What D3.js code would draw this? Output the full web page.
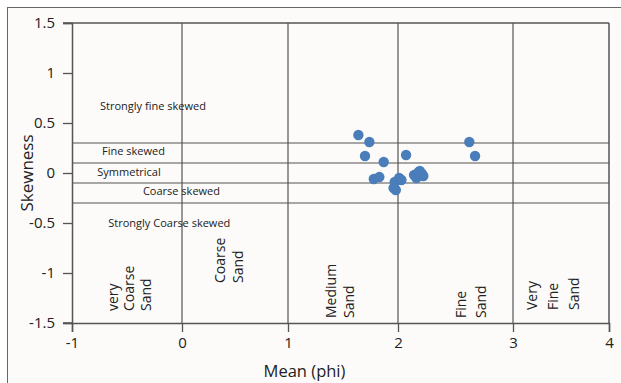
<!DOCTYPE html>
<html>
<head>
<meta charset="utf-8">
<script src="https://cdn.jsdelivr.net/npm/d3@7"></script>
<style>
  html, body { margin: 0; padding: 0; background: #ffffff; }
  svg { display: block; }
  text { font-family: "Open Sans", "Noto Sans", sans-serif; fill: #222; }
</style>
</head>
<body>
<svg id="chart" width="621" height="383"></svg>
<script>
// Grain-size samples: mean (phi) vs. skewness
const meanPhi = [1.64, 1.74, 1.70, 1.87, 2.07, 2.62, 2.67,
                 1.78, 1.83, 1.96, 1.98, 1.97, 2.01, 2.03,
                 2.14, 2.16, 2.18, 2.21, 2.22, 2.19];
const skewness = [0.38, 0.31, 0.17, 0.11, 0.18, 0.31, 0.17,
                  -0.06, -0.04, -0.15, -0.17, -0.09, -0.05, -0.07,
                  -0.02, -0.05, 0.01, -0.01, -0.03, 0.02];

const xTicks = [-1, 0, 1, 2, 3, 4];
const yTicks = [-1.5, -1, -0.5, 0, 0.5, 1, 1.5];

// Folk & Ward class limits
const sizeLimits = [0, 1, 2, 3];
const skewLimits = [0.3, 0.1, -0.1, -0.3];

const skewClasses = ["Strongly fine skewed", "Fine skewed", "Symmetrical",
                     "Coarse skewed", "Strongly Coarse skewed"];
const sizeClasses = [["very", "Coarse", "Sand"], ["Coarse", "Sand"],
                     ["Medium", "Sand"], ["Fine", "Sand"], ["Very", "Fine", "Sand"]];

const svg = d3.select("#chart");

// page background and frame (runs past the right and bottom edges)
svg.append("rect").attr("x", 7.5).attr("y", 7.5).attr("width", 630).attr("height", 390)
  .attr("fill", "#fcfbf9").attr("stroke", "#666").attr("stroke-width", 1);

const x = d3.scaleLinear().domain(xTicks).range([72, 182, 288, 398, 513, 609]);
const y = d3.scaleLinear().domain([-1.5, 1.5]).range([323, 23]);

const lineColor = "#555";

// class boundaries
svg.append("g").selectAll("line").data(sizeLimits).join("line")
  .attr("x1", d => x(d)).attr("x2", d => x(d))
  .attr("y1", y(1.5)).attr("y2", y(-1.5))
  .attr("stroke", lineColor).attr("stroke-width", 1.2);

svg.append("g").selectAll("line").data(skewLimits).join("line")
  .attr("x1", x(-1)).attr("x2", x(4))
  .attr("y1", d => y(d)).attr("y2", d => y(d))
  .attr("stroke", lineColor).attr("stroke-width", 1.2);

// frame: top and right
svg.append("line").attr("x1", x(-1) - 9).attr("x2", x(4)).attr("y1", y(1.5)).attr("y2", y(1.5))
  .attr("stroke", lineColor).attr("stroke-width", 1.5);
svg.append("line").attr("x1", x(4)).attr("x2", x(4)).attr("y1", y(1.5)).attr("y2", y(-1.5))
  .attr("stroke", lineColor).attr("stroke-width", 1.5);

// axes
const yAxis = svg.append("g").attr("transform", `translate(${x(-1)},0)`)
  .call(d3.axisLeft(y).tickValues(yTicks).tickSize(9).tickPadding(8)
        .tickFormat(d => String(d)));
const xAxis = svg.append("g").attr("transform", `translate(0,${y(-1.5)})`)
  .call(d3.axisBottom(x).tickValues(xTicks).tickSize(9).tickPadding(5)
        .tickFormat(d => String(d)));
[xAxis, yAxis].forEach(g => {
  g.select(".domain").attr("stroke", lineColor).attr("stroke-width", 1.5);
  g.selectAll(".tick line").attr("stroke", lineColor).attr("stroke-width", 1.3);
  g.selectAll(".tick text").attr("font-size", 15).attr("font-family", "'Open Sans', sans-serif")
    .attr("fill", "#222");
});
// bottom axis line extends left like a tick
svg.append("line").attr("x1", x(-1) - 9).attr("x2", x(-1)).attr("y1", y(-1.5)).attr("y2", y(-1.5))
  .attr("stroke", lineColor).attr("stroke-width", 1.5);

// axis titles
svg.append("text").attr("x", x(1.15)).attr("y", 377).attr("text-anchor", "middle")
  .attr("font-size", 16.5).text("Mean (phi)");
svg.append("text").attr("transform", `translate(33,${y(0)}) rotate(-90)`)
  .attr("text-anchor", "middle").attr("font-size", 17).text("Skewness");

// skewness class labels (x in phi, y in skewness)
const skewLabelPos = [[-0.745, 0.67], [-0.727, 0.22], [-0.77, 0.01], [-0.355, -0.18], [-0.67, -0.50]];
svg.append("g").selectAll("text").data(skewClasses).join("text")
  .attr("x", (d, i) => x(skewLabelPos[i][0]))
  .attr("y", (d, i) => y(skewLabelPos[i][1]))
  .attr("dy", "0.35em").attr("font-size", 11).text(d => d);

// size class labels, rotated; [phi of first column, skewness of text start]
const sizeLabelPos = [[-0.63, -1.38], [0.36, -1.10], [1.39, -1.45], [2.55, -1.45], [3.20, -1.37]];
const colGap = [16.5, 18, 18, 20, 21];
sizeClasses.forEach((lines, i) => {
  const g = svg.append("g")
    .attr("transform", `translate(${x(sizeLabelPos[i][0])},${y(sizeLabelPos[i][1])}) rotate(-90)`);
  g.selectAll("text").data(lines).join("text")
    .attr("x", 0).attr("y", (d, j) => j * colGap[i])
    .attr("dy", "0.35em").attr("font-size", 14).text(d => d);
});

// samples
svg.append("g").selectAll("circle").data(meanPhi).join("circle")
  .attr("cx", (d, i) => x(d)).attr("cy", (d, i) => y(skewness[i]))
  .attr("r", 5.2).attr("fill", "#4a7ebb");
</script>
</body>
</html>
